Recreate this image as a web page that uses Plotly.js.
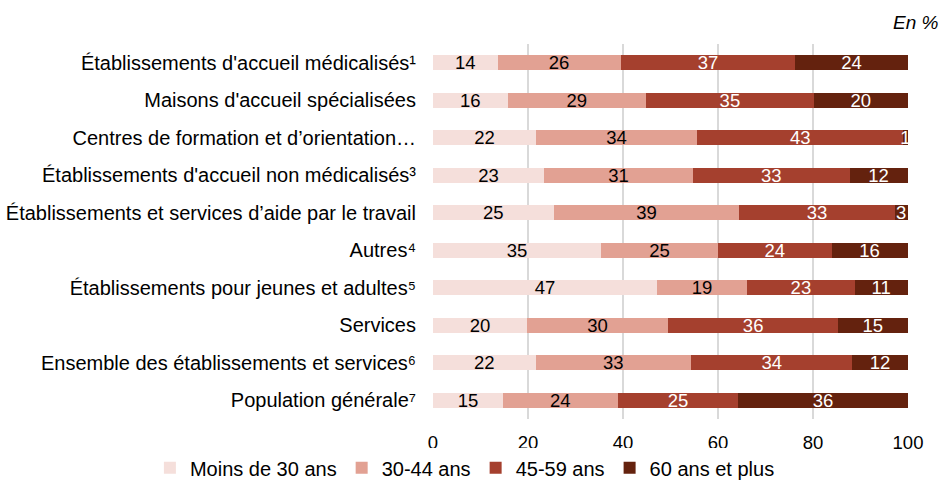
<!DOCTYPE html>
<html>
<head>
<meta charset="utf-8">
<script src="https://cdn.plot.ly/plotly-3.0.1.min.js"></script>
<style>html,body{margin:0;padding:0;background:#fff;}#chart{width:948px;height:480px;}</style>
</head>
<body>
<div id="chart"></div>
<script>
const categories = [
  "Établissements d'accueil médicalisés¹",
  "Maisons d'accueil spécialisées",
  "Centres de formation et d’orientation…",
  "Établissements d'accueil non médicalisés³",
  "Établissements et services d’aide par le travail",
  "Autres⁴",
  "Établissements pour jeunes et adultes⁵",
  "Services",
  "Ensemble des établissements et services⁶",
  "Population générale⁷"
];
const seriesNames = ["Moins de 30 ans", "30-44 ans", "45-59 ans", "60 ans et plus"];
const moins30 = [13.6, 15.7, 21.7, 23.4, 25.4, 35.4, 47.2, 19.8, 21.6, 14.7];
const de30a44 = [25.9, 29.1, 33.9, 31.3, 39.1, 24.6, 18.9, 29.7, 32.7, 24.2];
const de45a59 = [36.8, 35.4, 43.4, 33.0, 32.7, 23.9, 22.7, 35.8, 34.0, 25.4];
const plus60  = [23.6, 19.7, 0.9, 12.2, 2.7, 16.0, 11.1, 14.6, 11.6, 35.6];
const xTicks = [0, 20, 40, 60, 80, 100];

const colors = ["#f5dfdb", "#e2a193", "#a5402e", "#64220e"];
const textColors = ["#000000", "#000000", "#ffffff", "#ffffff"];
const allValues = [moins30, de30a44, de45a59, plus60];
const FONT = "Liberation Sans, Arial, sans-serif";

const traces = allValues.map((vals, i) => ({
  type: "bar",
  orientation: "h",
  name: seriesNames[i],
  y: categories,
  x: vals,
  marker: {color: colors[i], line: {width: 0}},
  texttemplate: "%{x:.0f}",
  textposition: "inside",
  insidetextanchor: "middle",
  textangle: 0,
  constraintext: "none",
  cliponaxis: false,
  insidetextfont: {family: FONT, size: 18.5, color: textColors[i]},
  hoverinfo: "none"
}));

const layout = {
  width: 948,
  height: 480,
  barmode: "stack",
  bargap: 0.6,
  paper_bgcolor: "#ffffff",
  plot_bgcolor: "#ffffff",
  font: {family: FONT, size: 18, color: "#000000"},
  margin: {l: 433, r: 40, t: 44, b: 61, pad: 0, autoexpand: false},
  xaxis: {
    range: [0, 100],
    tickvals: xTicks,
    ticktext: xTicks.map(String),
    showgrid: true,
    gridcolor: "#d9d9d9",
    gridwidth: 2,
    zeroline: false,
    showline: false,
    ticks: "",
    ticklabelstandoff: 10,
    tickfont: {family: FONT, size: 18.5, color: "#000"},
    fixedrange: true
  },
  yaxis: {
    autorange: "reversed",
    type: "category",
    showgrid: false,
    zeroline: false,
    showline: false,
    ticks: "",
    ticklabelstandoff: 16,
    tickfont: {family: FONT, size: 20, color: "#000"},
    fixedrange: true
  },
  showlegend: true,
  legend: {
    orientation: "h",
    xref: "paper",
    yref: "paper",
    x: -0.596,
    xanchor: "left",
    y: -0.078,
    yanchor: "top",
    font: {family: FONT, size: 20, color: "#000"},
    traceorder: "normal",
    itemwidth: 30,
    tracegroupgap: 0
  },
  annotations: [{
    text: "<i>En %</i>",
    xref: "paper", yref: "paper",
    x: 1.07, y: 1.09, xanchor: "right", yanchor: "top",
    showarrow: false,
    font: {family: FONT, size: 19, color: "#000"}
  }]
};

Plotly.newPlot("chart", traces, layout, {staticPlot: true, displayModeBar: false});
</script>
</body>
</html>
